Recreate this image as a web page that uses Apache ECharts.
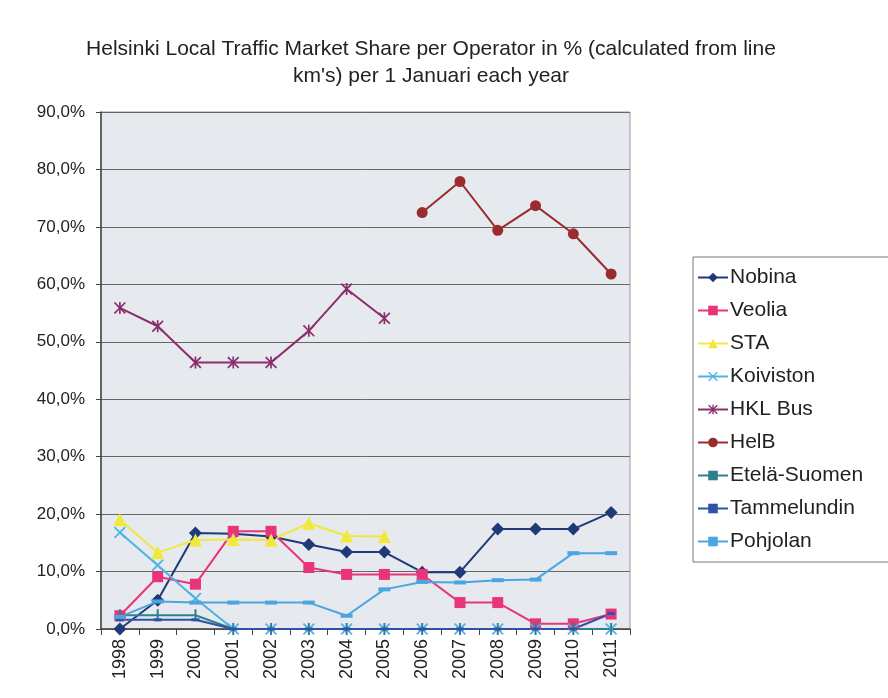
<!DOCTYPE html>
<html>
<head>
<meta charset="utf-8">
<script src="https://cdn.jsdelivr.net/npm/echarts@6/dist/echarts.min.js"></script>
<style>html,body{margin:0;padding:0;background:#fff}#c{width:888px;height:698px}</style>
</head>
<body>
<div id="c"></div>
<script>
const years = ['1998','1999','2000','2001','2002','2003','2004','2005','2006','2007','2008','2009','2010','2011'];
const yTicks = [0,10,20,30,40,50,60,70,80,90];
const nobina =      [0, 5.0, 16.7, 16.6, 16.1, 14.7, 13.4, 13.4, 9.9, 9.9, 17.4, 17.4, 17.4, 20.3];
const veolia =      [2.3, 9.1, 7.8, 17.0, 17.0, 10.7, 9.5, 9.5, 9.5, 4.6, 4.6, 0.9, 0.9, 2.6];
const sta =         [19.0, 13.3, 15.5, 15.6, 15.5, 18.4, 16.2, 16.1, null, null, null, null, null, null];
const koiviston =   [16.8, 11.1, 5.3, 0, 0, 0, 0, 0, 0, 0, 0, 0, 0, 0];
const hklBus =      [55.9, 52.7, 46.4, 46.4, 46.4, 51.9, 59.2, 54.1, null, null, null, null, null, null];
const helb =        [null, null, null, null, null, null, null, null, 72.5, 77.9, 69.4, 73.7, 68.8, 61.8];
const etelaSuomen = [2.4, 2.4, 2.4, 0, 0, 0, 0, 0, 0, 0, 0, 0, 0, 0];
const tammelundin = [1.6, 1.6, 1.6, 0, 0, 0, 0, 0, 0, 0, 0, 0, 0, 2.7];
const pohjolan =    [2.1, 4.8, 4.6, 4.6, 4.6, 4.6, 2.3, 6.9, 8.2, 8.1, 8.5, 8.6, 13.2, 13.2];

const X_PATH = 'path://M0,1L1,0L5,4L9,0L10,1L6,5L10,9L9,10L5,6L1,10L0,9L4,5Z';
const AST_PATH = 'path://M0,1L1,0L5,4L9,0L10,1L6,5L10,9L9,10L5,6L1,10L0,9L4,5Z M4.3,0L5.7,0L5.7,10L4.3,10Z';

function mk(name, data, color, symbol, size) {
  return {
    name, type: 'line', data, symbol, symbolSize: size,
    showAllSymbol: true, connectNulls: false,
    lineStyle: { color, width: 2 },
    itemStyle: { color },
    emphasis: { disabled: true },
    animation: false
  };
}

const FONT = 'Liberation Sans, Arial';
const chart = echarts.init(document.getElementById('c'), null, { renderer: 'canvas' });
chart.setOption({
  backgroundColor: '#ffffff',
  animation: false,
  title: {
    text: 'Helsinki Local Traffic Market Share per Operator in % (calculated from line\nkm\'s) per 1 Januari each year',
    left: 426, top: 31, textAlign: 'center',
    textStyle: { fontFamily: FONT, fontSize: 21, fontWeight: 'normal', color: '#222', lineHeight: 27 }
  },
  legend: {
    orient: 'vertical', left: 693, top: 257,
    itemWidth: 30, itemHeight: 12, itemGap: 12,
    padding: [10, 60, 10, 4],
    borderColor: '#777', borderWidth: 1,
    textStyle: { fontFamily: FONT, fontSize: 21, color: '#222', padding: [0, 0, 0, -3] },
    data: ['Nobina','Veolia','STA','Koiviston','HKL Bus','HelB','Etelä-Suomen','Tammelundin','Pohjolan']
  },
  grid: {
    left: 101, right: 258, top: 112, bottom: 69,
    show: true, backgroundColor: '#e6e9ee', borderColor: '#999', borderWidth: 1
  },
  xAxis: {
    type: 'category', data: years, boundaryGap: true,
    axisLine: { lineStyle: { color: '#444', width: 1.5 } },
    axisTick: { show: true, alignWithLabel: false, length: 6, lineStyle: { color: '#444' } },
    axisLabel: { rotate: 90, fontFamily: FONT, fontSize: 18, color: '#222', margin: 10 }
  },
  yAxis: {
    type: 'value', min: 0, max: 90, interval: 10,
    axisLine: { show: true, lineStyle: { color: '#444', width: 1.5 } },
    axisTick: { show: true, length: 5, lineStyle: { color: '#444' } },
    splitLine: { lineStyle: { color: '#666', width: 1 } },
    axisLabel: {
      fontFamily: FONT, fontSize: 17, color: '#222', margin: 16,
      formatter: v => yTicks.includes(v) ? v.toFixed(1).replace('.', ',') + '%' : ''
    }
  },
  series: [
    mk('Nobina', nobina, '#1f3a78', 'diamond', 13),
    mk('Veolia', veolia, '#e8357a', 'rect', 11),
    mk('STA', sta, '#f2e83a', 'triangle', 13),
    mk('Koiviston', koiviston, '#4db2e4', X_PATH, 12),
    mk('HKL Bus', hklBus, '#8c2e6e', AST_PATH, 12),
    mk('HelB', helb, '#9a2b2e', 'circle', 11),
    mk('Etelä-Suomen', etelaSuomen, '#2e8090', 'rect', [2, 12]),
    mk('Tammelundin', tammelundin, '#2f52a8', 'rect', [8, 3]),
    mk('Pohjolan', pohjolan, '#4aa6e2', 'rect', [12, 4])
  ]
});
</script>
</body>
</html>
